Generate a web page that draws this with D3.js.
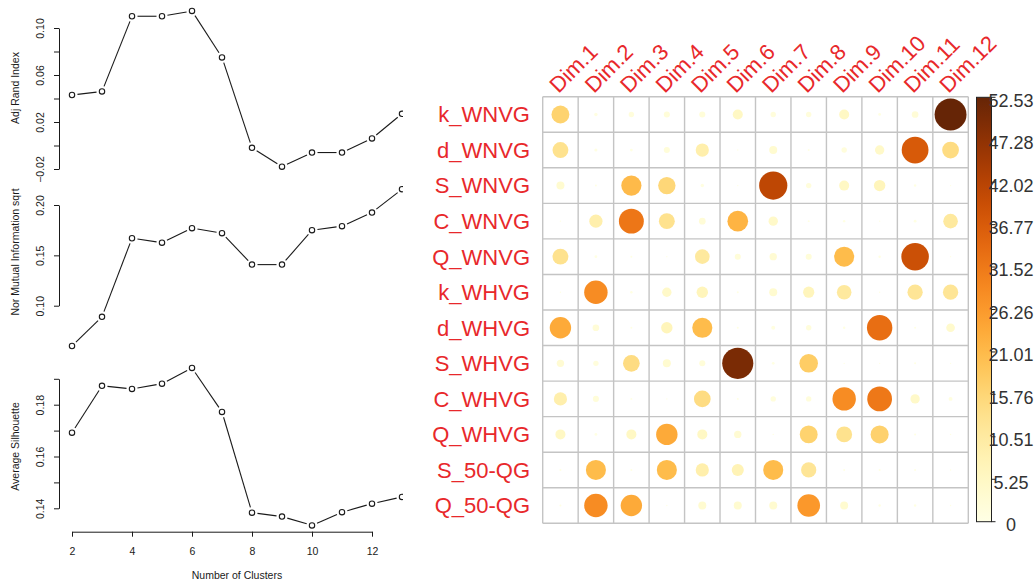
<!DOCTYPE html>
<html><head><meta charset="utf-8">
<script src="https://cdn.jsdelivr.net/npm/d3@7"></script>
<style>body{margin:0;background:#fff}svg{display:block}text{font-family:"Liberation Sans",Arial,sans-serif}</style>
</head><body><svg id="c" width="1034" height="581"></svg>
<script>
// ---------------- data ----------------
const clusters = [2,3,4,5,6,7,8,9,10,11,12,13];
const adjRand  = [0.043,0.046,0.110,0.110,0.1145,0.075,-0.002,-0.018,-0.006,-0.006,0.006,0.027];
const norMI    = [0.060,0.089,0.167,0.1626,0.177,0.172,0.1408,0.1408,0.175,0.179,0.1925,0.2157];
const avgSil   = [0.1692,0.1873,0.1861,0.1881,0.1942,0.1772,0.1383,0.1368,0.1334,0.1385,0.1418,0.1444];
const xTicks = [2,4,6,8,10,12];
const ariTicks = [-0.02,0,0.02,0.04,0.06,0.08,0.10];
const ariLabels = [-0.02,0.02,0.06,0.10];
const nmiTicks = [0.10,0.15,0.20];
const nmiLabels = [0.10,0.15,0.20];
const silTicks = [0.14,0.15,0.16,0.17,0.18,0.19];
const silLabels = [0.14,0.16,0.18];

const methods = ["k_WNVG","d_WNVG","S_WNVG","C_WNVG","Q_WNVG","k_WHVG","d_WHVG","S_WHVG","C_WHVG","Q_WHVG","S_50-QG","Q_50-QG"];
const dims = ["Dim.1","Dim.2","Dim.3","Dim.4","Dim.5","Dim.6","Dim.7","Dim.8","Dim.9","Dim.10","Dim.11","Dim.12"];
const contrib = [
  [16.5, 0.6, 1.5, 1.9, 1.9, 5.2, 1.5, 1.5, 5.2, 0.4, 2.3, 52.53],
  [13,   0.5, 0.4, 1.9, 9,   0.1, 3.3, 0.2, 1.5, 4.5, 37,  14.4],
  [3.3,  0.2, 21,  15.6,0.6, 0.1, 41,  1.5, 5.2, 6.7, 0.3, 0.1],
  [0.1,  9,   32,  13,  2.3, 22,  4.5, 0.2, 0.3, 0.1, 0.4, 11],
  [13,   0.4, 0.2, 0.1, 11,  1.9, 2.8, 1.9, 20.8,0.3, 39,  0.1],
  [0.1,  28.3,0.3, 4.5, 6.7, 0.2, 3.3, 6.5, 11,  0.1, 12,  12],
  [23.6, 2.3, 0.2, 6.7, 20.8,0.2, 0.8, 1.5, 0.3, 33.3,0.2, 3.9],
  [2.8,  1.5, 14.4,3.3, 1.9, 50,  0.4, 17.7,0.1, 0.1, 0.2, 0.1],
  [9,    1.9, 0.2, 0.1, 14.4,0.2, 1.5, 1.5, 28.3,31.6,4.5, 0.8],
  [5.2,  0.4, 5.2, 23.6,5.2, 2.8, 0.1, 16.5,13,  16.8,0.2, 0.1],
  [0.2,  20.8,0.2, 20.8,9,   7.5, 20.8,12,  0.2, 0.2, 0.2, 0.1],
  [0.2,  28.3,23.6,0.1, 3.3, 3.3, 3.3, 26.5,3.3, 0.3, 0.3, 0.1]
];
const legendMax = 52.53;
const legendTicks = [0,5.25,10.51,15.76,21.01,26.26,31.52,36.77,42.02,47.28,52.53];

// ---------------- drawing ----------------
const svg = d3.select("#c");
const ink = "#1a1a1a";

svg.append("defs").append("clipPath").attr("id","leftclip")
  .append("rect").attr("x",0).attr("y",0).attr("width",403).attr("height",581);
const left = svg.append("g").attr("clip-path","url(#leftclip)");

const x = d3.scaleLinear().domain([2,12]).range([72,372]);
const axisX = 59;
const fmt = d3.format(".2f");

const panels = [
  {vals: adjRand, dom:[-0.02,0.10], rng:[169,28], ticks:ariTicks, labels:ariLabels, title:"Adj Rand Index", tc:88},
  {vals: norMI, dom:[0.10,0.20], rng:[305.7,205], ticks:nmiTicks, labels:nmiLabels, title:"Nor Mutual Information sqrt", tc:252},
  {vals: avgSil, dom:[0.14,0.19], rng:[508.3,378.8], ticks:silTicks, labels:silLabels, title:"Average Silhouette", tc:446.5}
];

panels.forEach(p => {
  const y = d3.scaleLinear().domain(p.dom).range(p.rng);
  const ax = left.append("g").attr("transform",`translate(${axisX},0)`)
    .call(d3.axisLeft(y).tickValues(p.ticks).tickSize(5).tickSizeOuter(0)
      .tickFormat(d => p.labels.some(l => Math.abs(l-d)<1e-9) ? fmt(d).replace("-","\u2212") : ""));
  ax.select(".domain").attr("stroke",ink);
  ax.selectAll(".tick line").attr("stroke",ink);
  ax.selectAll(".tick text").attr("transform","rotate(-90)")
    .attr("x",0).attr("y",-15).attr("dy",0).attr("text-anchor","middle")
    .attr("font-size",10.5).attr("fill",ink);
  left.append("text").attr("transform",`translate(19,${p.tc}) rotate(-90)`)
    .attr("text-anchor","middle").attr("font-size",10.5).attr("fill",ink).text(p.title);
  const pts = clusters.map((c,i)=>[x(c), y(p.vals[i])]);
  const gap = 5.5;
  for (let i=0;i<pts.length-1;i++){
    const [x1,y1]=pts[i],[x2,y2]=pts[i+1];
    const L=Math.hypot(x2-x1,y2-y1); if (L<=2*gap) continue;
    const ux=(x2-x1)/L, uy=(y2-y1)/L;
    left.append("line").attr("x1",x1+ux*gap).attr("y1",y1+uy*gap)
      .attr("x2",x2-ux*gap).attr("y2",y2-uy*gap).attr("stroke",ink).attr("stroke-width",1.1);
  }
  left.selectAll(null).data(pts).enter().append("circle")
    .attr("cx",d=>d[0]).attr("cy",d=>d[1]).attr("r",2.7)
    .attr("fill","#fff").attr("stroke",ink).attr("stroke-width",1.1);
});

const xa = left.append("g").attr("transform","translate(0,531.7)")
  .call(d3.axisBottom(x).tickValues(xTicks).tickSize(5).tickSizeOuter(0).tickFormat(d3.format("d")));
xa.select(".domain").attr("stroke",ink);
xa.selectAll(".tick line").attr("stroke",ink);
xa.selectAll(".tick text").attr("y",23.7).attr("dy",0).attr("font-size",10.5).attr("fill",ink);
left.append("text").attr("x",237).attr("y",579).attr("text-anchor","middle")
  .attr("font-size",10.5).attr("fill",ink).text("Number of Clusters");

// ---------------- corrplot ----------------
const gx = d3.scaleBand().domain(dims).range([542.7,968.3]);
const gy = d3.scaleBand().domain(methods).range([96.7,523.3]);
const color = t => d3.interpolateYlOrBr(t);
const hm = svg.append("g");
const cell = Math.min(gx.bandwidth(), gy.bandwidth());

const gridColor = "#c4c4c4";
dims.concat([null]).forEach((d,i)=>{
  const xx = 542.7 + i*gx.bandwidth();
  hm.append("line").attr("x1",xx).attr("x2",xx).attr("y1",96.7).attr("y2",523.3)
    .attr("stroke",gridColor).attr("stroke-width",1.4);
});
methods.concat([null]).forEach((d,i)=>{
  const yy = 96.7 + i*gy.bandwidth();
  hm.append("line").attr("y1",yy).attr("y2",yy).attr("x1",542.7).attr("x2",968.3)
    .attr("stroke",gridColor).attr("stroke-width",1.4);
});

const cells = [];
methods.forEach((m,i)=>dims.forEach((d,j)=>cells.push({m,d,v:contrib[i][j]})));
hm.selectAll("circle.c").data(cells).enter().append("circle")
  .attr("cx",c=>gx(c.d)+gx.bandwidth()/2)
  .attr("cy",c=>gy(c.m)+gy.bandwidth()/2)
  .attr("r",c=>0.45*cell*Math.sqrt(c.v/legendMax))
  .attr("fill",c=>color(c.v/legendMax));

const red = "#e8282b";
hm.selectAll("text.row").data(methods).enter().append("text")
  .attr("x",530).attr("y",m=>gy(m)+gy.bandwidth()/2+7.9)
  .attr("text-anchor","end").attr("font-size",22).attr("fill",red).text(m=>m);
hm.selectAll("text.col").data(dims).enter().append("text")
  .attr("transform",d=>`translate(${gx(d)+gx.bandwidth()/2-2},94) rotate(-45)`)
  .attr("text-anchor","start").attr("font-size",22).attr("fill",red).text(d=>d);

const ly = d3.scaleLinear().domain([0,legendMax]).range([521.7,97.3]);
const grad = svg.select("defs").append("linearGradient").attr("id","lg")
  .attr("x1",0).attr("y1",1).attr("x2",0).attr("y2",0);
d3.range(0,1.0001,0.05).forEach(t=>grad.append("stop").attr("offset",t).attr("stop-color",color(t)));
svg.append("rect").attr("x",976.5).attr("y",ly(legendMax)).attr("width",15)
  .attr("height",ly(0)-ly(legendMax)).attr("fill","url(#lg)").attr("stroke","#222").attr("stroke-width",1);
svg.selectAll("line.lt").data(legendTicks).enter().append("line")
  .attr("x1",991.5).attr("x2",995.5).attr("y1",d=>ly(d)).attr("y2",d=>ly(d)).attr("stroke","#222");
svg.selectAll("text.lt").data(legendTicks).enter().append("text")
  .attr("x",1011).attr("y",d=>ly(d)+9.4).attr("text-anchor","middle")
  .attr("font-size",18).attr("fill","#333").text(d=>d===0?"0":String(d));
</script></body></html>
